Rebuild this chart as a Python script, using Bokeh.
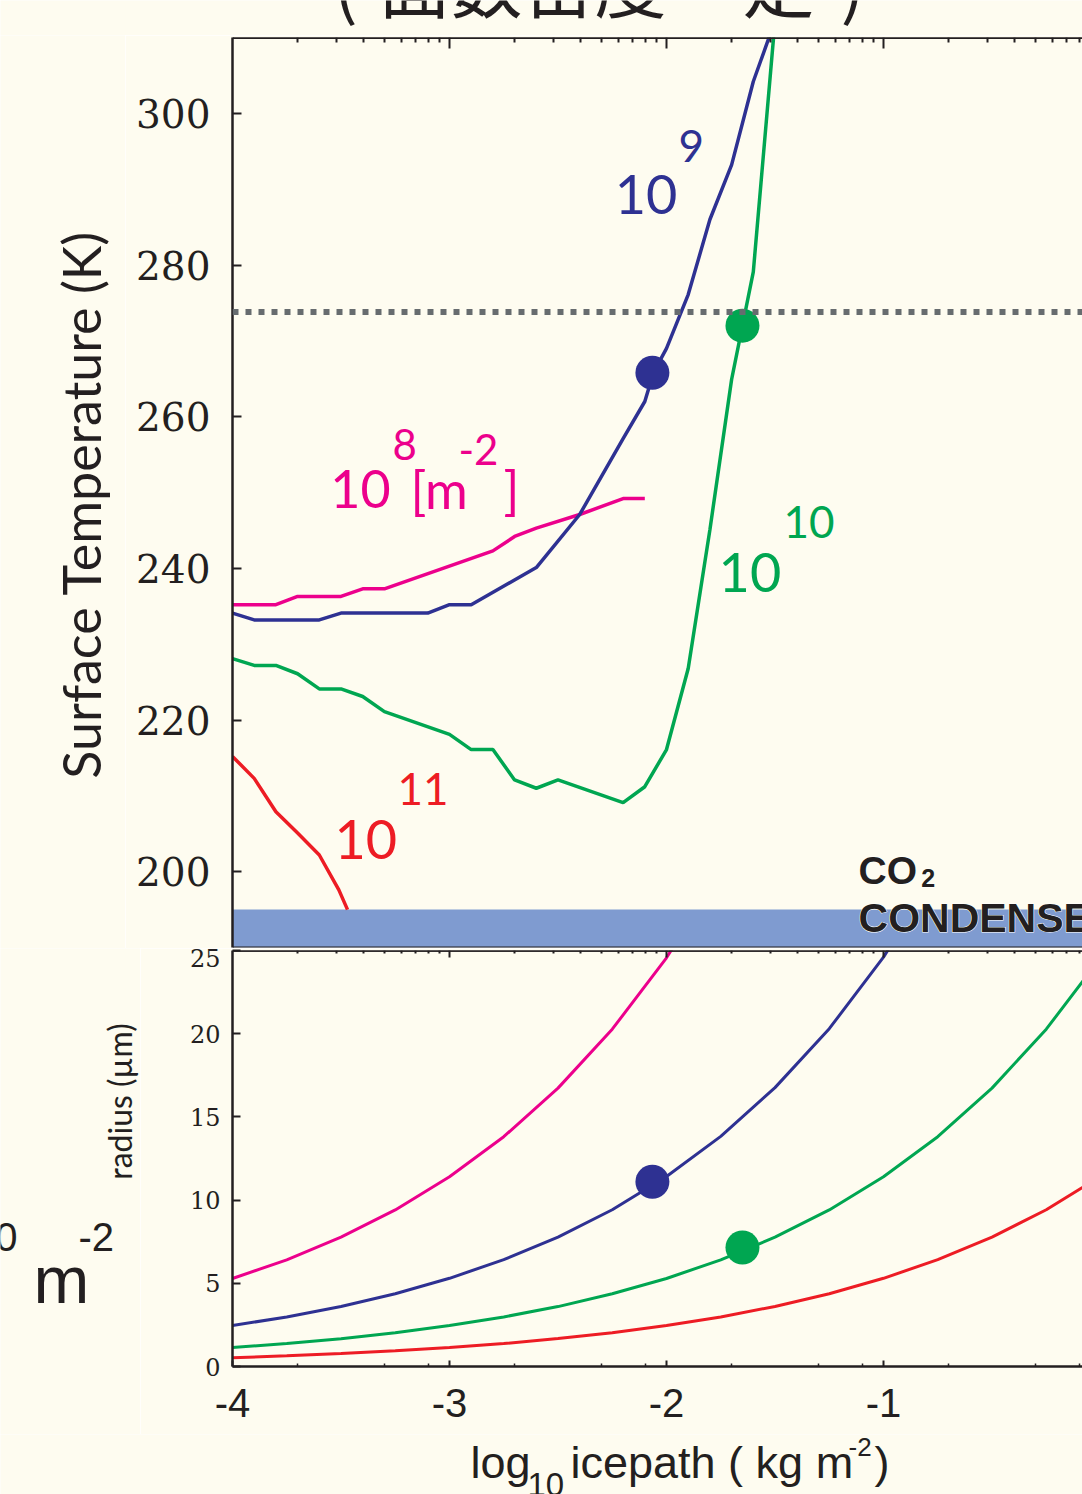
import math
from bokeh.plotting import figure
from bokeh.models import Range1d, LinearAxis, FixedTicker, Span, BoxAnnotation, Label
from bokeh.layouts import column, row
from bokeh.embed import file_html
from bokeh.resources import INLINE

# ---------------- data ----------------
X_RANGE = (-4.0, -0.083)
T_RANGE = (190, 310)
R_RANGE = (0, 25)
FREEZE_T = 273.8
CO2_BAND = (190, 195)

T_TICKS = [200, 220, 240, 260, 280, 300]
R_TICKS = [0, 5, 10, 15, 20, 25]
X_TICKS = [-4, -3, -2, -1]
X_LABELS = {-4: "-4", -3: "-3", -2: "-2", -1: "-1"}
DECADE_STEPS = [2, 3, 4, 5, 6, 7, 8, 9]
BOTTOM_STEPS = [2, 5, 8]

# surface temperature (K) vs log10 icepath, one series per number density
MAG_X = [-4.0, -3.8, -3.7, -3.5, -3.4, -3.3, -2.8, -2.7, -2.6, -2.4, -2.2, -2.1]
MAG_T = [235.2, 235.2, 236.3, 236.3, 237.3, 237.3, 242.3, 244.2, 245.3, 247.1, 249.2, 249.2]

BLUE_X = [-4.0, -3.9, -3.6, -3.5, -3.1, -3.0, -2.9, -2.6, -2.4, -2.2, -2.1, -2.06, -2.0, -1.9, -1.8, -1.7, -1.6, -1.5]
BLUE_T = [234.1, 233.2, 233.2, 234.1, 234.1, 235.2, 235.2, 240.1, 247.1, 257.1, 262.0, 265.8, 269.0, 276.1, 286.0, 293.2, 304.2, 312.2]

GREEN_X = [-4.0, -3.9, -3.8, -3.7, -3.6, -3.5, -3.4, -3.3, -3.0, -2.9, -2.8, -2.7, -2.6, -2.5, -2.2, -2.1, -2.0, -1.9, -1.8, -1.7, -1.6, -1.5]
GREEN_T = [228.1, 227.2, 227.2, 226.1, 224.1, 224.1, 223.1, 221.1, 218.1, 216.1, 216.1, 212.1, 211.0, 212.1, 209.1, 211.2, 216.1, 226.8, 245.1, 264.9, 279.1, 312.2]

RED_X = [-4.0, -3.9, -3.8, -3.7, -3.6, -3.51, -3.47]
RED_T = [215.2, 212.3, 207.9, 205.1, 202.2, 197.6, 195.0]

# highlighted states: (log10 icepath, temperature, radius)
BLUE_MARK = (-2.065, 265.8, 11.1)
GREEN_MARK = (-1.65, 272.0, 7.15)

# particle radius (um) vs log10 icepath
RAD_X = [-4.0, -3.75, -3.5, -3.25, -3.0, -2.75, -2.5, -2.25, -2.0, -1.75, -1.5, -1.25, -1.0, -0.75, -0.5, -0.25, 0.0]
RAD_MAG = [5.29, 6.41, 7.77, 9.41, 11.4, 13.81, 16.73, 20.27, 24.56, 29.75]
RAD_BLUE = [2.46, 2.98, 3.61, 4.37, 5.3, 6.42, 7.78, 9.42, 11.42, 13.83, 16.76, 20.3, 24.6, 29.8]
RAD_GREEN = [1.14, 1.38, 1.67, 2.03, 2.46, 2.98, 3.6, 4.37, 5.29, 6.41, 7.77, 9.41, 11.4, 13.81, 16.73, 20.27, 24.56]
RAD_RED = [0.53, 0.64, 0.78, 0.94, 1.14, 1.38, 1.68, 2.03, 2.46, 2.98, 3.61, 4.37, 5.3, 6.42, 7.78, 9.42, 11.42]

# ---------------- style ----------------
BG = "#FEFCF0"
INK = "#231F20"
MAGENTA = "#EC008C"
BLUE = "#2E3192"
GREEN = "#00A651"
RED = "#ED1C24"
BAND = "#7F9BD0"
DOTS = "#676C6F"
NUM_FONT = "Lato"
SERIF = "DejaVu Serif"
SANS = "Liberation Sans"
CJK = "Noto Sans CJK JP"

TOP_MINOR = [d + math.log10(k) for d in X_TICKS for k in DECADE_STEPS]
BOT_MINOR = [d + math.log10(k) for d in X_TICKS for k in BOTTOM_STEPS]
MAJOR_POS = X_TICKS[1:]

W = 1082


def lab(p, x, y, text, size, color=INK, font=NUM_FONT, align="left", **kw):
    p.add_layout(Label(x=x, y=y, text=text, text_font=font, text_font_size=size,
                       text_color=color, text_baseline="middle", text_align=align, **kw))


def plain(p):
    p.xgrid.grid_line_color = None
    p.ygrid.grid_line_color = None


def canvas_fig(w, h):
    f = figure(width=w, height=h, x_range=Range1d(0, w), y_range=Range1d(0, h),
               output_backend="svg", toolbar_location=None, x_axis_location=None,
               y_axis_location=None, min_border=0, min_border_left=0, min_border_right=0,
               min_border_top=0, min_border_bottom=0, frame_align=False,
               background_fill_color=BG, border_fill_color=BG, outline_line_color=None)
    plain(f)
    return f


def tick_axis(loc, positions, length, width):
    # axis line with inward tick marks only (no tick labels)
    return LinearAxis(fixed_location=loc, ticker=FixedTicker(ticks=[], minor_ticks=positions),
                      major_tick_in=0, major_tick_out=0, minor_tick_in=length, minor_tick_out=0,
                      axis_line_width=width, axis_line_color=INK,
                      minor_tick_line_width=2, minor_tick_line_color=INK)


x_range = Range1d(*X_RANGE)

# ---------------- title strip (cropped at the top) ----------------
title_fig = canvas_fig(W, 35)
lab(title_fig, 333, 55, "(", "72px", font=CJK)
lab(title_fig, 378, 55, "面数密度", "72px", font=CJK)
lab(title_fig, 670, 55, "一定", "72px", font=CJK)
lab(title_fig, 840, 55, ")", "72px", font=CJK)

# ---------------- top panel ----------------
left_top = canvas_fig(125, 913)
lab(left_top, 80, 444, "Surface Temperature (K)", "52px", angle=math.pi / 2, align="center")

top = figure(width=W - 125, height=913, x_range=x_range, y_range=Range1d(*T_RANGE),
             output_backend="svg", toolbar_location=None, x_axis_location=None, frame_align=False,
             min_border_left=107, min_border_right=0, min_border_top=2, min_border_bottom=1,
             background_fill_color=BG, border_fill_color=BG, outline_line_color=None)
plain(top)

ya = top.yaxis[0]
ya.ticker = FixedTicker(ticks=T_TICKS)
ya.major_tick_in = 9
ya.major_tick_out = 0
ya.minor_tick_in = 0
ya.minor_tick_out = 0
ya.axis_line_width = 2.5
ya.axis_line_color = INK
ya.major_tick_line_width = 2
ya.major_tick_line_color = INK
ya.major_label_text_font = SERIF
ya.major_label_text_font_size = "39px"
ya.major_label_text_color = INK
ya.major_label_standoff = 22

top.add_layout(tick_axis(T_RANGE[1], TOP_MINOR, 5, 3), "above")
top.add_layout(tick_axis(T_RANGE[1], MAJOR_POS, 11, 3), "above")
top.add_layout(tick_axis(T_RANGE[0], [], 0, 2), "below")

top.add_layout(BoxAnnotation(bottom=CO2_BAND[0], top=CO2_BAND[1], fill_color=BAND, fill_alpha=1,
                             line_color=None, level="underlay"))
top.add_layout(Span(location=FREEZE_T, dimension="width", line_color=DOTS, line_width=6,
                    line_dash="6 7", line_cap="butt"))

top.line(RED_X, RED_T, line_color=RED, line_width=3.5)
top.line(GREEN_X, GREEN_T, line_color=GREEN, line_width=3.5)
top.line(MAG_X, MAG_T, line_color=MAGENTA, line_width=3.5)
top.line(BLUE_X, BLUE_T, line_color=BLUE, line_width=3.5)
top.scatter([BLUE_MARK[0]], [BLUE_MARK[1]], size=34, fill_color=BLUE, line_color=None)
top.scatter([GREEN_MARK[0]], [GREEN_MARK[1]], size=34, fill_color=GREEN, line_color=None)

# series labels (number density per m^2)
lab(top, -2.239, 289.3, "10", "54px", BLUE)
lab(top, -1.945, 295.7, "9", "44px", BLUE)
lab(top, -3.549, 250.4, "10", "52px", MAGENTA)
lab(top, -3.263, 256.3, "8", "42px", MAGENTA)
lab(top, -3.18, 250.4, "[m", "52px", MAGENTA)
lab(top, -2.959, 255.7, "-2", "42px", MAGENTA)
lab(top, -2.751, 250.4, "]", "52px", MAGENTA)
lab(top, -1.76, 239.4, "10", "54px", GREEN)
lab(top, -1.461, 246.1, "10", "44px", GREEN)
lab(top, -3.53, 204.3, "10", "54px", RED)
lab(top, -3.24, 210.9, "11", "44px", RED)

for color, outline in (("white", "white"), (INK, None)):
    top.add_layout(Label(x=-1.115, y=200.2, text="CO", text_font=SANS, text_font_style="bold",
                         text_font_size="39px", text_color=color, text_outline_color=outline,
                         text_baseline="middle"))
    top.add_layout(Label(x=-0.826, y=199.1, text="2", text_font=SANS, text_font_style="bold",
                         text_font_size="25px", text_color=color, text_outline_color=outline,
                         text_baseline="middle"))
    top.add_layout(Label(x=-1.115, y=193.9, text="CONDENSE", text_font=SANS, text_font_style="bold",
                         text_font_size="41px", text_color=color, text_outline_color=outline,
                         text_baseline="middle"))

# ---------------- bottom panel ----------------
left_bot = canvas_fig(140, 486)
lab(left_bot, 119, 333, "radius (µm)", "32px", angle=math.pi / 2, align="center")
lab(left_bot, 17, 198, "10", "40px", font=SANS, align="right")
lab(left_bot, 78, 198, "-2", "40px", font=SANS)
lab(left_bot, 33, 155.5, "m", "67px", font=SANS)

bot = figure(width=W - 140, height=486, x_range=x_range, y_range=Range1d(*R_RANGE),
             output_backend="svg", toolbar_location=None, frame_align=False,
             min_border_left=92, min_border_right=0, min_border_top=2, min_border_bottom=68,
             background_fill_color=BG, border_fill_color=BG, outline_line_color=None)
plain(bot)

by = bot.yaxis[0]
by.ticker = FixedTicker(ticks=R_TICKS)
by.major_tick_in = 8
by.major_tick_out = 0
by.minor_tick_in = 0
by.minor_tick_out = 0
by.axis_line_width = 2.5
by.axis_line_color = INK
by.major_tick_line_width = 2
by.major_tick_line_color = INK
by.major_label_text_font = SERIF
by.major_label_text_font_size = "24px"
by.major_label_text_color = INK
by.major_label_standoff = 12

bx = bot.xaxis[0]
bx.ticker = FixedTicker(ticks=X_TICKS, minor_ticks=BOT_MINOR)
bx.major_label_overrides = X_LABELS
bx.major_tick_in = 6
bx.major_tick_out = 0
bx.minor_tick_in = 3
bx.minor_tick_out = 0
bx.axis_line_width = 2.5
bx.axis_line_color = INK
bx.major_tick_line_width = 2
bx.major_tick_line_color = INK
bx.minor_tick_line_width = 1.5
bx.minor_tick_line_color = INK
bx.major_label_text_font = SANS
bx.major_label_text_font_size = "40px"
bx.major_label_text_color = INK
bx.major_label_standoff = 22

bot.add_layout(tick_axis(R_RANGE[1], TOP_MINOR, 3, 2.5), "above")
bot.add_layout(tick_axis(R_RANGE[1], MAJOR_POS, 7, 2.5), "above")

bot.line(RAD_X[:len(RAD_MAG)], RAD_MAG, line_color=MAGENTA, line_width=3)
bot.line(RAD_X[:len(RAD_BLUE)], RAD_BLUE, line_color=BLUE, line_width=3)
bot.line(RAD_X[:len(RAD_GREEN)], RAD_GREEN, line_color=GREEN, line_width=3)
bot.line(RAD_X[:len(RAD_RED)], RAD_RED, line_color=RED, line_width=3)
bot.scatter([BLUE_MARK[0]], [BLUE_MARK[2]], size=34, fill_color=BLUE, line_color=None)
bot.scatter([GREEN_MARK[0]], [GREEN_MARK[2]], size=34, fill_color=GREEN, line_color=None)

# ---------------- x axis title strip ----------------
xt = canvas_fig(W, 60)
lab(xt, 470, 31.6, "log", "45px", font=SANS)
lab(xt, 527, 10, "10", "33px", font=SANS)
lab(xt, 570, 31.6, "icepath ( kg m", "45px", font=SANS)
lab(xt, 848, 48, "-2", "26px", font=SANS)
lab(xt, 874, 31.6, ")", "45px", font=SANS)

layout = column(title_fig, row(left_top, top, spacing=0), row(left_bot, bot, spacing=0), xt, spacing=0)
open("out.html", "w").write(file_html(layout, INLINE))
